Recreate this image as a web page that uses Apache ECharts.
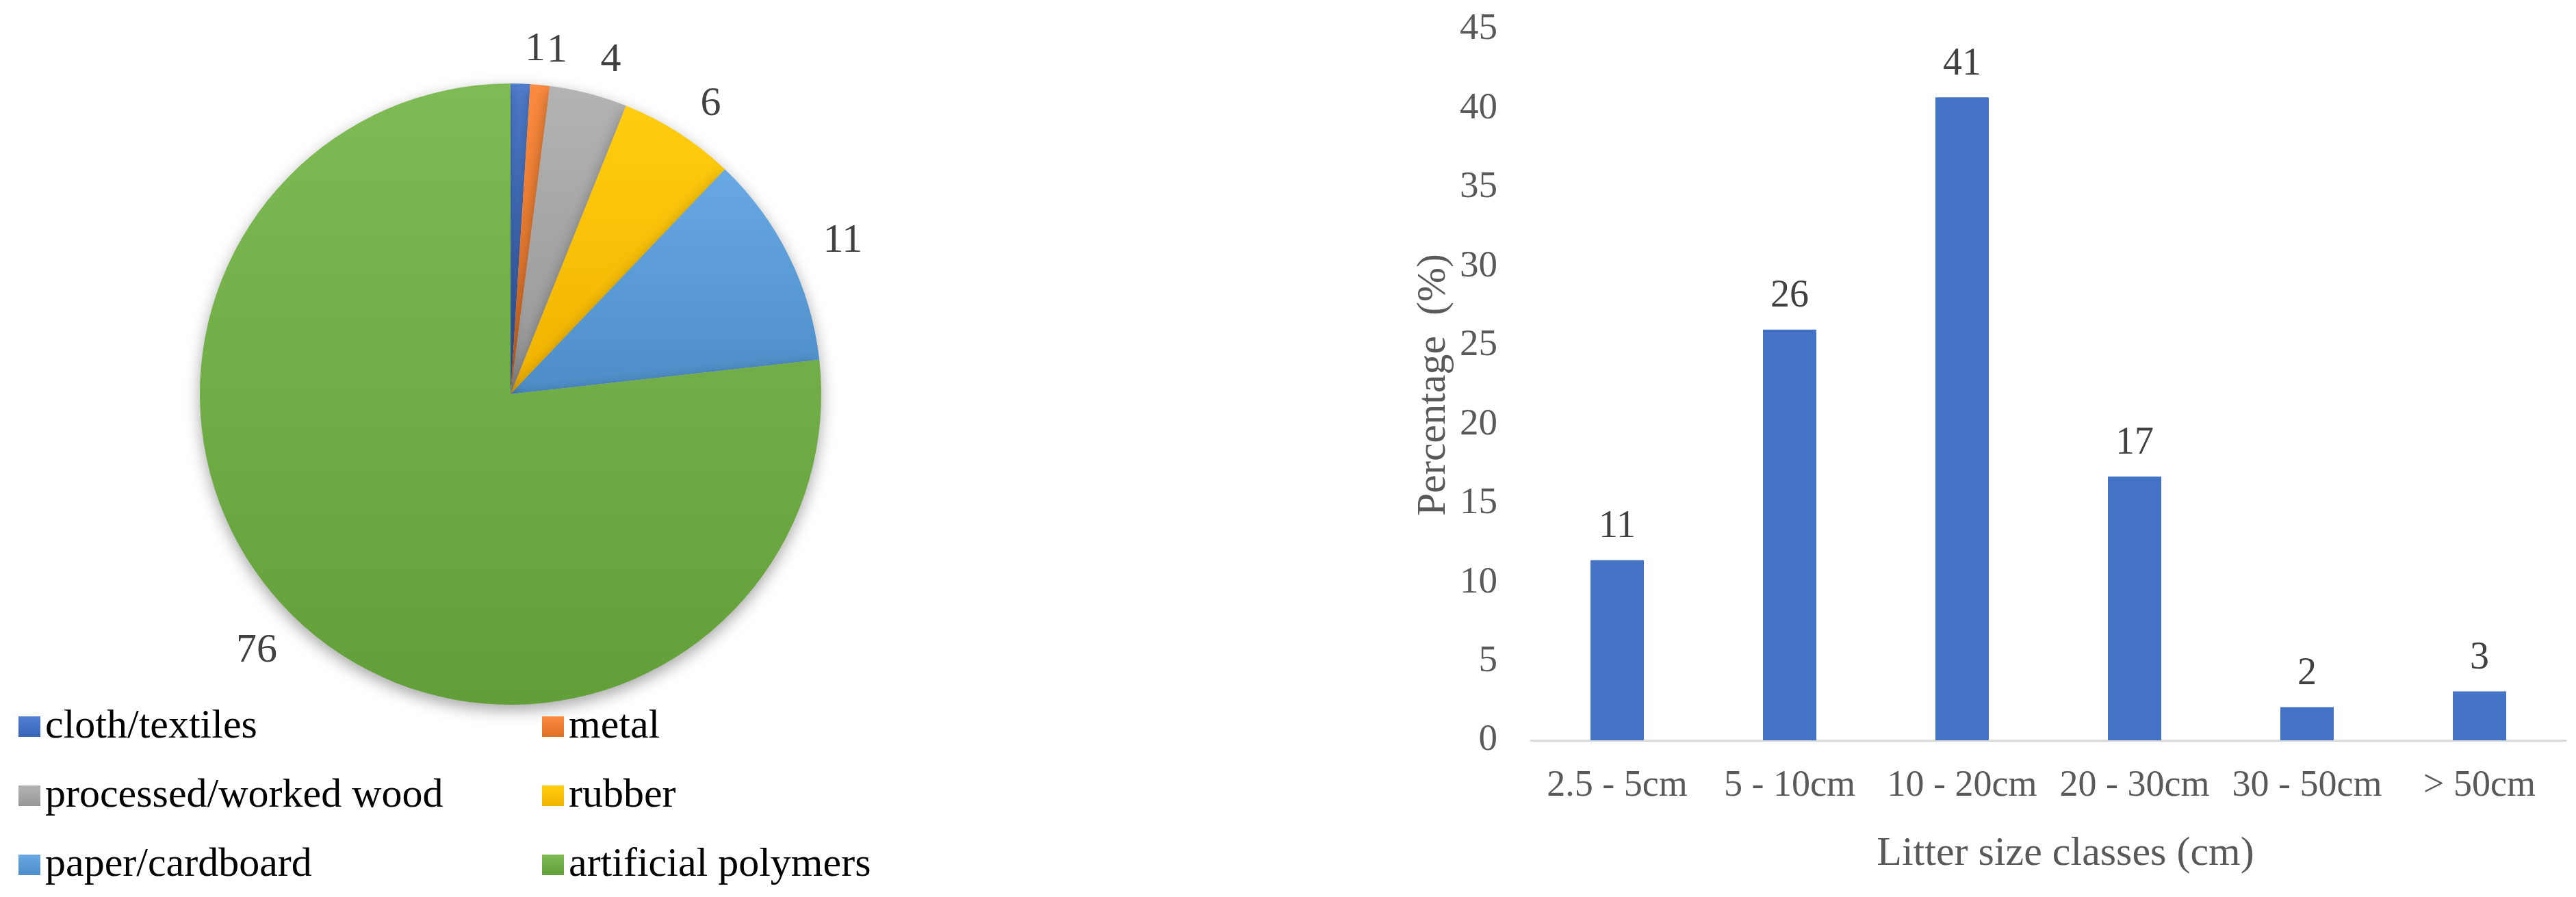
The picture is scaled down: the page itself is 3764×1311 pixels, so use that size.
<!DOCTYPE html>
<html>
<head>
<meta charset="utf-8">
<script src="https://cdn.jsdelivr.net/npm/echarts@6/dist/echarts.min.js"></script>
<style>
  html, body { margin: 0; padding: 0; background: #fff; }
  #chart { width: 3764px; height: 1311px; }
</style>
</head>
<body>
<div id="chart"></div>
<script>
// litter material composition (%)
const materials = ['cloth/textiles', 'metal', 'processed/worked wood', 'rubber', 'paper/cardboard', 'artificial polymers']
const materialShares = [1, 1, 4, 6, 11, 76]
const materialColors = ['#4472C4', '#ED7D31', '#A5A5A5', '#FFC000', '#5B9BD5', '#70AD47']

// litter size classes (%)
const sizeClasses = ['2.5 - 5cm', '5 - 10cm', '10 - 20cm', '20 - 30cm', '30 - 50cm', '> 50cm']
const sizeShares = [11.4, 26.0, 40.7, 16.7, 2.1, 3.1]
const yTicks = [0, 5, 10, 15, 20, 25, 30, 35, 40, 45]

const FONT = '"Liberation Serif", "DejaVu Serif", serif'

function shade(hex, amt) {
  let n = parseInt(hex.slice(1), 16)
  let r = Math.max(0, Math.min(255, (n >> 16) + amt))
  let g = Math.max(0, Math.min(255, ((n >> 8) & 255) + amt))
  let b = Math.max(0, Math.min(255, (n & 255) + amt))
  return 'rgb(' + r + ',' + g + ',' + b + ')'
}

let chart = echarts.init(document.getElementById('chart'))

let pieData = materials.map((name, i) => ({
  name: name,
  value: materialShares[i],
  itemStyle: {
    color: new echarts.graphic.LinearGradient(0, 0, 0, 1, [
      { offset: 0, color: shade(materialColors[i], 14) },
      { offset: 1, color: shade(materialColors[i], -14) },
    ]),
  },
}))

let legendStyle = {
  orient: 'vertical',
  icon: 'rect',
  itemWidth: 32,
  itemHeight: 30,
  itemGap: 39,
  top: 1026,
  textStyle: { fontFamily: FONT, fontSize: 60, color: '#000', lineHeight: 62, padding: [0, 0, 0, 2] },
  selectedMode: false,
}

let option = {
  color: materialColors,
  animation: false,
  legend: [
    Object.assign({ left: 22, data: [materials[0], materials[2], materials[4]] }, legendStyle),
    Object.assign({ left: 787, data: [materials[1], materials[3], materials[5]] }, legendStyle),
  ],
  grid: {
    left: 2237,
    right: 15,
    top: 43,
    bottom: 229,
  },
  xAxis: {
    type: 'category',
    data: sizeClasses,
    name: 'Litter size classes (cm)',
    nameLocation: 'middle',
    nameGap: 136,
    nameTextStyle: { fontFamily: FONT, fontSize: 60, color: '#595959', padding: [0, 0, 0, 50] },
    axisLine: { lineStyle: { color: '#D9D9D9', width: 3 } },
    axisTick: { show: false },
    axisLabel: { interval: 0, fontFamily: FONT, fontSize: 54, color: '#595959', margin: 40 },
  },
  yAxis: {
    type: 'value',
    min: yTicks[0],
    max: yTicks[yTicks.length - 1],
    interval: 5,
    name: 'Percentage  (%)',
    nameLocation: 'middle',
    nameGap: 112,
    nameTextStyle: { fontFamily: FONT, fontSize: 60, color: '#595959' },
    axisLine: { show: false },
    axisTick: { show: false },
    splitLine: { show: false },
    axisLabel: { fontFamily: FONT, fontSize: 55, color: '#595959', margin: 49 },
  },
  series: [
    {
      type: 'pie',
      center: [746, 576],
      radius: 454,
      startAngle: 90,
      clockwise: true,
      avoidLabelOverlap: false,
      data: pieData,
      itemStyle: {
        shadowBlur: 22,
        shadowColor: 'rgba(0,0,0,0.35)',
        shadowOffsetY: 8,
      },
      label: {
        position: 'outside',
        formatter: '{c}',
        fontFamily: FONT,
        fontSize: 60,
        color: '#404040',
      },
      labelLine: { show: false, length: 50, length2: 0 },
      emphasis: { disabled: true },
    },
    {
      type: 'bar',
      data: sizeShares,
      barWidth: 78,
      itemStyle: { color: '#4472C4' },
      label: {
        show: true,
        position: 'top',
        distance: 20,
        fontFamily: FONT,
        fontSize: 56,
        color: '#404040',
        formatter: p => p.value.toFixed(0),
      },
    },
  ],
}

chart.setOption(option)
window.addEventListener('resize', () => {
  chart.resize()
})
</script>
</body>
</html>
